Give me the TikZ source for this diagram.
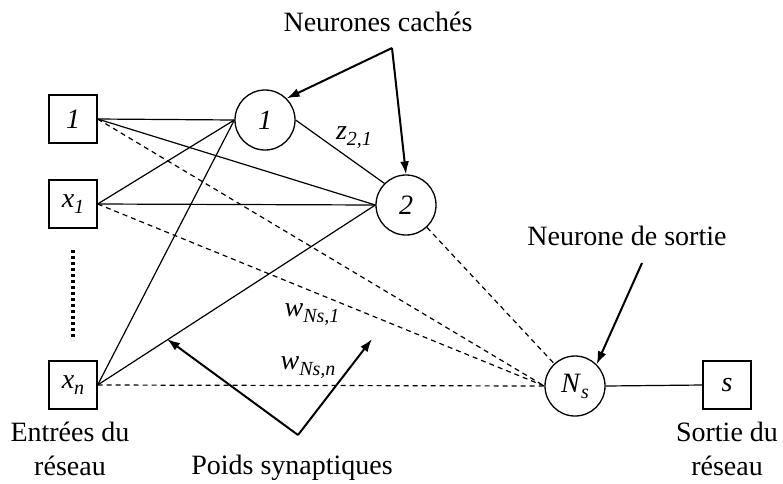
\documentclass[tikz,border=0pt]{standalone}
\usepackage{fontspec}
\setmainfont{Liberation Serif}
\usetikzlibrary{arrows.meta}
\newcommand\lsb[1]{\raisebox{-6pt}{\fontsize{20}{20}\selectfont\textit{#1}}}
\begin{document}
\begin{tikzpicture}[x=1pt,y=-1pt,
  every node/.style={font=\fontsize{28}{34}\selectfont},
  inbox/.style={draw, line width=1.3pt, minimum size=48pt, inner sep=0pt},
  neuron/.style={draw, circle, line width=1.3pt, minimum size=60pt, inner sep=0pt},
  conn/.style={line width=1.2pt},
  dconn/.style={line width=1.2pt, dash pattern=on 5pt off 4pt},
  pointer/.style={line width=2pt, -{Latex[length=13pt,width=9pt]}},
  lbl/.style={inner sep=0pt}]
\useasboundingbox (0,0) rectangle (783,483);
% input boxes
\node[inbox] (b1) at (73,119) {\textit{1}};
\node[inbox] (bx1) at (73,204) {\textit{x}\lsb{1}};
\node[inbox] (bxn) at (73,385) {\textit{x}\lsb{n}};
% neurons
\node[neuron] (c1) at (265,120) {\textit{1}};
\node[neuron] (c2) at (406,205) {\textit{2}};
\node[neuron] (ns) at (575,386) {\textit{N}\lsb{s}};
% output box
\node[inbox] (bs) at (727,385) {\textit{s}};
% dots
\coordinate (d1) at (73,250);
\coordinate (d2) at (73,340);
\draw[line width=3.5pt, dash pattern=on 3pt off 3pt] (d1) -- (d2);
% solid connections
\draw[conn] (b1.east) -- (c1.west);
\draw[conn] (b1.east) -- (c2.west);
\draw[conn] (bx1.east) -- (c1.west);
\draw[conn] (bx1.east) -- (c2.west);
\draw[conn] (bxn.east) -- (c1.west);
\draw[conn] (bxn.east) -- (c2.west);
\draw[conn] (c1.east) -- (c2.north west);
\draw[conn] (ns.east) -- (bs.west);
% dashed connections
\draw[dconn] (b1.east) -- (ns.west);
\draw[dconn] (bx1.east) -- (ns.west);
\draw[dconn] (bxn.east) -- (ns.west);
\draw[dconn] (c2) -- (ns);
% weight labels
\node[lbl] (lz) at (354,138) {\textit{z}\lsb{2,1}};
\node[lbl] (lw1) at (312,315) {\textit{w}\lsb{Ns,1}};
\node[lbl] (lwn) at (308,368) {\textit{w}\lsb{Ns,n}};
% titles
\node[lbl, anchor=base] (thc) at (378,31) {Neurones cachés};
\node[lbl, anchor=base] (tns) at (627,245) {Neurone de sortie};
\node[lbl, anchor=base] (tps) at (292,474) {Poids synaptiques};
\node[lbl, align=center, anchor=south] (tin) at (70,476) {Entrées du\\réseau};
\node[lbl, align=center, anchor=south] (tout) at (727,476) {Sortie du\\réseau};
% pointers
\coordinate (hcO) at (392,48);
\draw[pointer] (hcO) -- (c1.45);
\draw[pointer] (hcO) -- (c2.north);
\coordinate (nsO) at (642,263);
\draw[pointer] (nsO) -- (ns.45);
\coordinate (pO) at (298,435);
\coordinate (pA) at (167,339);
\coordinate (pB) at (372,339);
\draw[pointer] (pO) -- (pA);
\draw[pointer] (pO) -- (pB);
\end{tikzpicture}
\end{document}
